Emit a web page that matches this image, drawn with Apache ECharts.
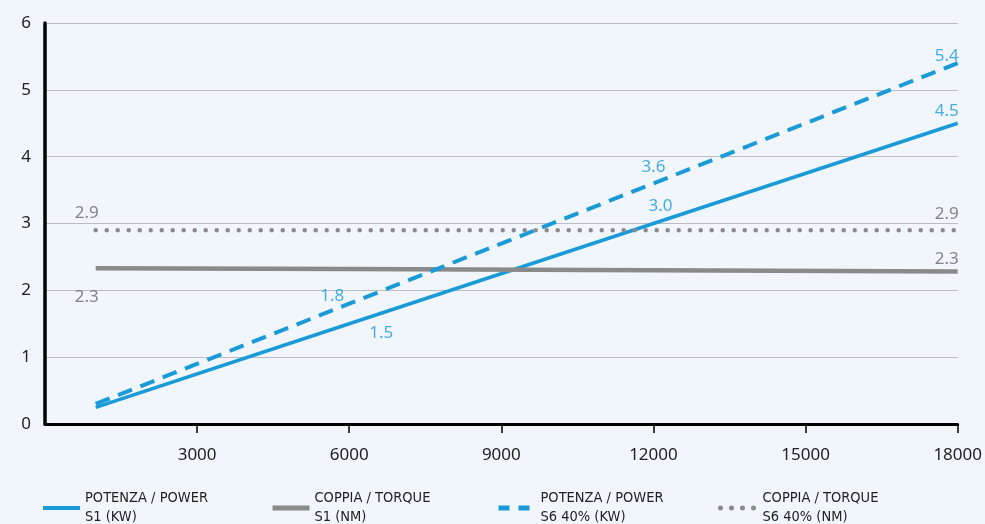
<!DOCTYPE html>
<html><head><meta charset="utf-8">
<script src="https://cdn.jsdelivr.net/npm/echarts@6/dist/echarts.min.js"></script>
<style>html,body{margin:0;padding:0;background:#f1f6fd;}#c{width:985px;height:524px;}</style>
</head><body><div id="c"></div>
<script>
const xTicks = [0, 3000, 6000, 9000, 12000, 15000, 18000];
const speeds = [1000, 6000, 12000, 18000];
const powerS1 = [0.25, 1.5, 3.0, 4.5];
const torqueS1 = [2.33, 2.32, 2.30, 2.28];
const powerS6 = [0.3, 1.8, 3.6, 5.4];
const torqueS6 = [2.9, 2.9, 2.9, 2.9];
const names = ['POTENZA / POWER\nS1 (KW)', 'COPPIA / TORQUE\nS1 (NM)', 'POTENZA / POWER\nS6 40% (KW)', 'COPPIA / TORQUE\nS6 40% (NM)'];

const BLUE = '#1a9bd7', GREY = '#8a8a8a', FONT = "'Noto Sans', sans-serif";
const pairs = a => speeds.map((s, i) => [s, a[i]]);

const labelSpecs = [
  [powerS1, 1, [32, 9], BLUE], [powerS1, 2, [7, -17], BLUE], [powerS1, 3, [-11, -12], BLUE],
  [powerS6, 1, [-17, -8], BLUE], [powerS6, 2, [0, -16], BLUE], [powerS6, 3, [-11, -7], BLUE],
  [torqueS1, 0, [-9, 29], '#666'], [torqueS1, 3, [-11, -12], '#666'],
  [torqueS6, 0, [-9, -17], '#666'], [torqueS6, 3, [-11, -16], '#666']
];
const labelData = labelSpecs.map(([arr, i, off, col]) => ({
  value: [speeds[i], arr[i]],
  label: { show: true, position: 'inside', offset: off, color: col,
    formatter: () => arr[i].toFixed(1), fontSize: 17, fontFamily: FONT }
}));

const legendLefts = [41, 270, 496, 718];
const legendLines = [
  { width: 4 }, { width: 5 }, { width: 5, type: [11, 9] }, { width: 5, type: [0, 11], cap: 'round' }
];
const chart = echarts.init(document.getElementById('c'));
chart.setOption({
  backgroundColor: '#f1f6fd',
  animation: false,
  grid: { left: 45, right: 27, top: 23, bottom: 100 },
  legend: names.map((n, i) => ({
    data: [n], left: legendLefts[i], top: 489, padding: 0, itemWidth: 37, itemHeight: 14, itemGap: 6,
    selectedMode: false,
    itemStyle: { opacity: 0 },
    lineStyle: legendLines[i],
    textStyle: { fontSize: 14.5, color: '#222', lineHeight: 19,
      fontFamily: "'Liberation Sans Narrow', 'DejaVu Sans Condensed', 'Roboto', sans-serif" }
  })),
  xAxis: {
    type: 'value', min: 0, max: 18000, interval: 3000,
    axisLine: { lineStyle: { color: '#000', width: 3 } },
    axisTick: { show: true, length: 9, lineStyle: { color: '#000', width: 1.5 } },
    axisLabel: { showMinLabel: false, color: '#222', fontSize: 17, margin: 23, fontFamily: FONT,
      formatter: v => String(v) },
    splitLine: { show: false }
  },
  yAxis: {
    type: 'value', min: 0, max: 6, interval: 1,
    axisLine: { show: true, lineStyle: { color: '#000', width: 3.5 } },
    axisTick: { show: false },
    axisLabel: { color: '#222', fontSize: 17, margin: 14, fontFamily: FONT },
    splitLine: { lineStyle: { color: '#bdbdbd', width: 1 } }
  },
  series: [
    { name: names[0], type: 'line', symbol: 'none', data: pairs(powerS1), color: BLUE,
      lineStyle: { color: BLUE, width: 3.5 }, silent: true },
    { name: names[1], type: 'line', symbol: 'none', data: pairs(torqueS1), color: GREY,
      lineStyle: { color: GREY, width: 4.5 }, silent: true },
    { name: names[2], type: 'line', symbol: 'none', data: pairs(powerS6), color: BLUE,
      lineStyle: { color: BLUE, width: 4, type: [15, 9] }, silent: true },
    { name: names[3], type: 'line', symbol: 'none', data: pairs(torqueS6), color: GREY,
      lineStyle: { color: GREY, width: 4.5, type: [0, 11], cap: 'round' }, silent: true },
    { name: 'labels', type: 'scatter', symbolSize: 0, data: labelData, silent: true, z: 5 }
  ]
});
</script></body></html>
